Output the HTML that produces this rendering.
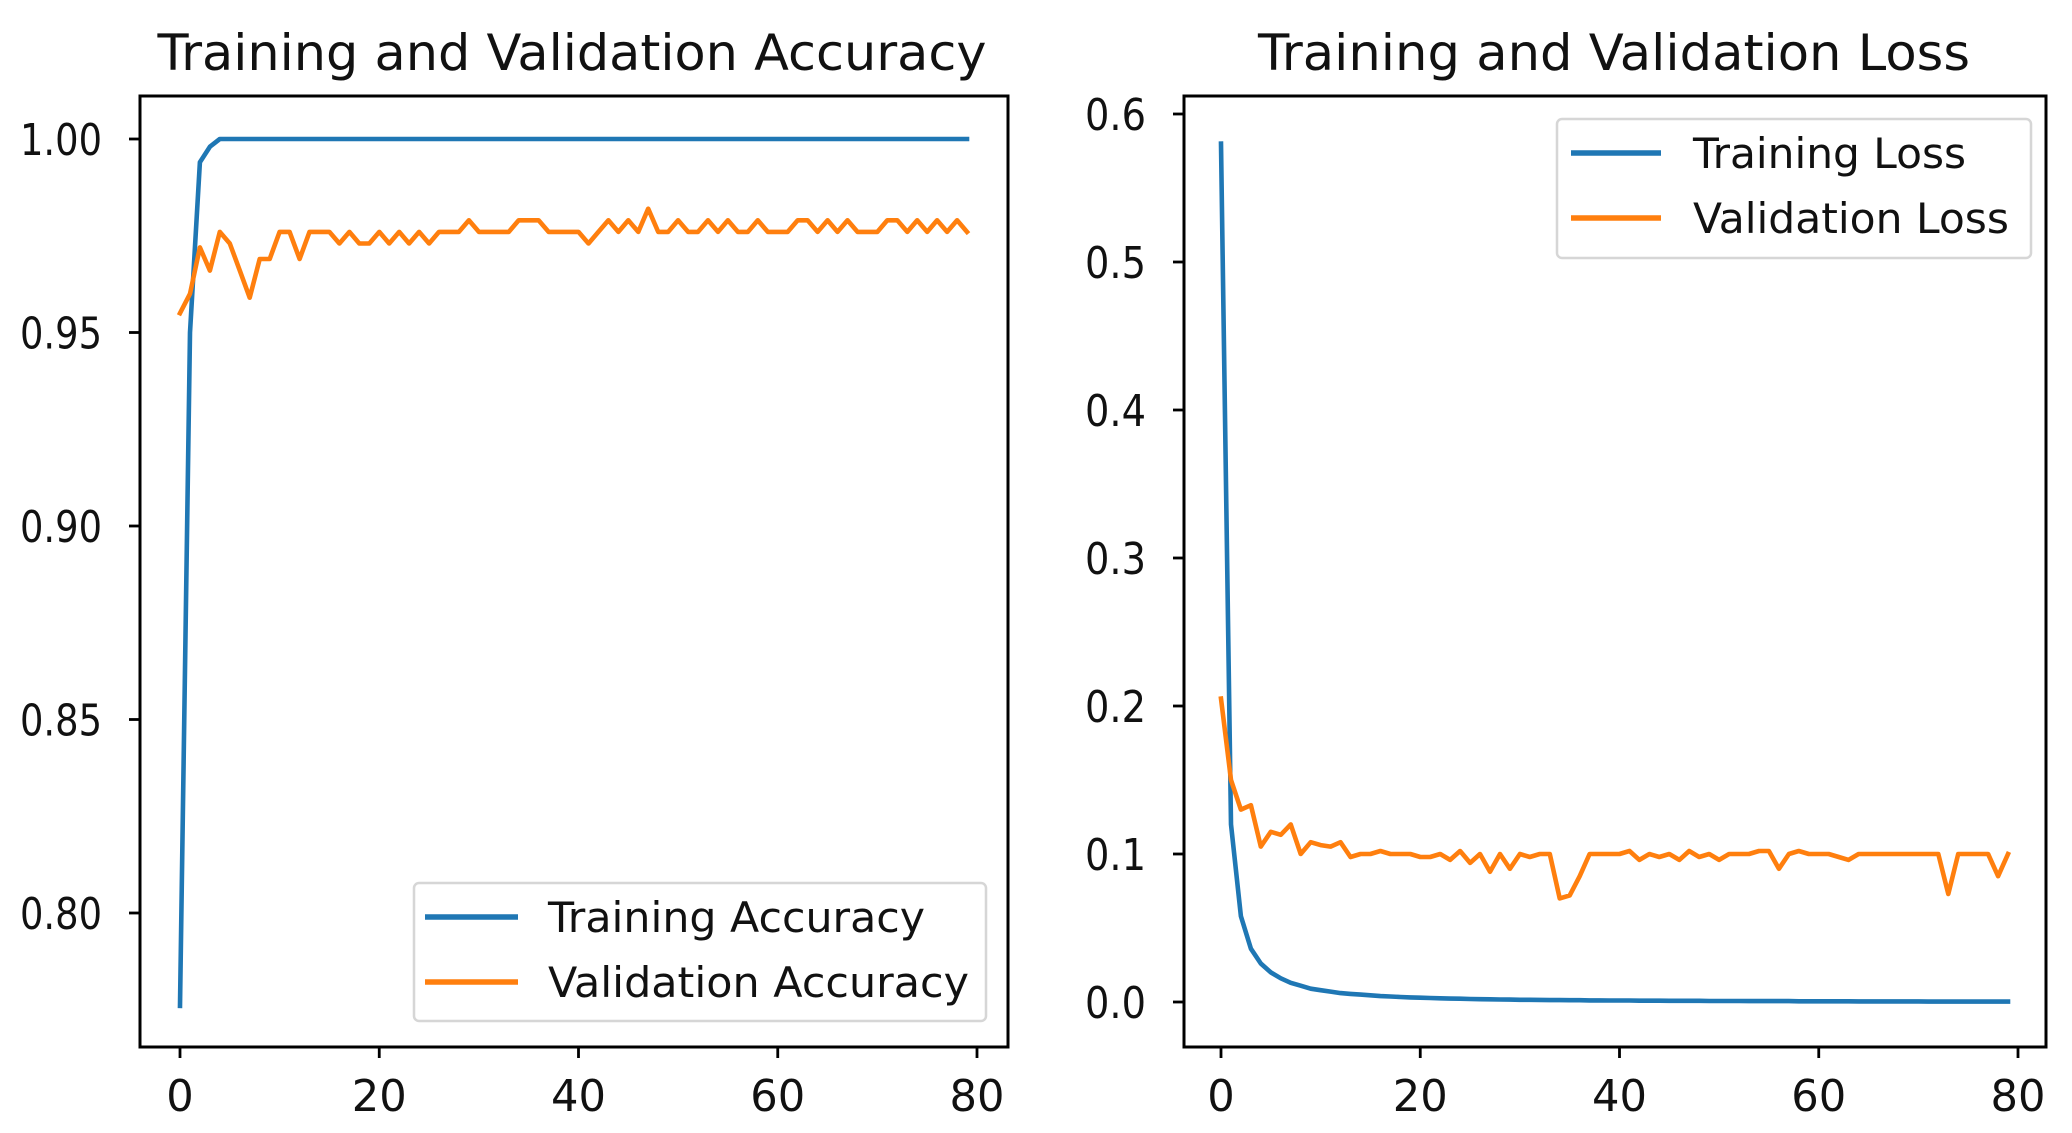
<!DOCTYPE html>
<html><head><meta charset="utf-8">
<style>
html,body{margin:0;padding:0;background:#fff;}
svg{display:block;font-family:"DejaVu Sans","Liberation Sans",sans-serif;}
</style></head>
<body>
<svg id="fig" width="2072" height="1133" viewBox="0 0 2072 1133" xmlns="http://www.w3.org/2000/svg"></svg>
<script>
const epochs = Array.from({length:80},(_,i)=>i);
const trainAcc = [0.776,0.95,0.994,0.998,1,1,1,1,1,1,1,1,1,1,1,1,1,1,1,1,1,1,1,1,1,1,1,1,1,1,1,1,1,1,1,1,1,1,1,1,1,1,1,1,1,1,1,1,1,1,1,1,1,1,1,1,1,1,1,1,1,1,1,1,1,1,1,1,1,1,1,1,1,1,1,1,1,1,1,1];
const valAcc = [0.955,0.96,0.972,0.966,0.976,0.973,0.966,0.959,0.969,0.969,0.976,0.976,0.969,0.976,0.976,0.976,0.973,0.976,0.973,0.973,0.976,0.973,0.976,0.973,0.976,0.973,0.976,0.976,0.976,0.979,0.976,0.976,0.976,0.976,0.979,0.979,0.979,0.976,0.976,0.976,0.976,0.973,0.976,0.979,0.976,0.979,0.976,0.982,0.976,0.976,0.979,0.976,0.976,0.979,0.976,0.979,0.976,0.976,0.979,0.976,0.976,0.976,0.979,0.979,0.976,0.979,0.976,0.979,0.976,0.976,0.976,0.979,0.979,0.976,0.979,0.976,0.979,0.976,0.979,0.976];
const trainLoss = [0.58,0.12,0.058,0.036,0.026,0.02,0.016,0.013,0.011,0.009,0.008,0.007,0.006,0.0055,0.005,0.0045,0.004,0.0037,0.0034,0.0031,0.0029,0.0027,0.0025,0.0023,0.0022,0.002,0.0019,0.0018,0.0017,0.0016,0.0015,0.0015,0.0014,0.0013,0.0013,0.0012,0.0012,0.0011,0.0011,0.001,0.001,0.001,0.0009,0.0009,0.0009,0.0008,0.0008,0.0008,0.0008,0.0007,0.0007,0.0007,0.0007,0.0006,0.0006,0.0006,0.0006,0.0006,0.0005,0.0005,0.0005,0.0005,0.0005,0.0005,0.0004,0.0004,0.0004,0.0004,0.0004,0.0004,0.0004,0.0003,0.0003,0.0003,0.0003,0.0003,0.0003,0.0003,0.0003,0.0003];
const valLoss = [0.205,0.15,0.13,0.133,0.105,0.115,0.113,0.12,0.1,0.108,0.106,0.105,0.108,0.098,0.1,0.1,0.102,0.1,0.1,0.1,0.098,0.098,0.1,0.096,0.102,0.094,0.1,0.088,0.1,0.09,0.1,0.098,0.1,0.1,0.07,0.072,0.085,0.1,0.1,0.1,0.1,0.102,0.096,0.1,0.098,0.1,0.096,0.102,0.098,0.1,0.096,0.1,0.1,0.1,0.102,0.102,0.09,0.1,0.102,0.1,0.1,0.1,0.098,0.096,0.1,0.1,0.1,0.1,0.1,0.1,0.1,0.1,0.1,0.073,0.1,0.1,0.1,0.1,0.085,0.1];
const xTicks = [0,20,40,60,80];
const accTicks = [0.80,0.85,0.90,0.95,1.00];
const accTickLabels = ["0.80","0.85","0.90","0.95","1.00"];
const lossTicks = [0,0.1,0.2,0.3,0.4,0.5,0.6];
const lossTickLabels = ["0.0","0.1","0.2","0.3","0.4","0.5","0.6"];

const NS="http://www.w3.org/2000/svg";
const svg=document.getElementById('fig');
function mk(tag,attrs,parent){const e=document.createElementNS(NS,tag);for(const k in attrs)e.setAttribute(k,attrs[k]);(parent||svg).appendChild(e);return e;}

function panel(cfg){
  const g=mk('g',{});
  
  
  const {L,R,T,B}=cfg;
  const xs=v=>cfg.x0px+(v-0)*(cfg.x80px-cfg.x0px)/80;
  const ys=v=>cfg.yAp+(v-cfg.yA)*(cfg.yBp-cfg.yAp)/(cfg.yB-cfg.yA);
  const t=mk('text',{x:cfg.titleX,y:70,'text-anchor':'middle','font-size':50,fill:'#111',textLength:cfg.titleLen,lengthAdjust:'spacingAndGlyphs'},g);
  t.textContent=cfg.title;
  
  
  cfg.series.forEach(s=>{
    const d=s.data.map((v,i)=>(i?'L':'M')+xs(epochs[i]).toFixed(1)+','+ys(v).toFixed(1)).join(' ');
    const p=mk('path',{d:d,fill:'none',stroke:s.color,'stroke-width':4.6,'stroke-linejoin':'round','stroke-linecap':'square'},g);
    
    
  });
  const fr=mk('rect',{x:L,y:T,width:R-L,height:B-T,fill:'none',stroke:'#000','stroke-width':3},g);
  
  
  xTicks.forEach(v=>{
    const x=xs(v);
    mk('line',{x1:x,y1:B,x2:x,y2:B+11,stroke:'#000','stroke-width':2.8},g);
    const s=String(v);
    const tx=mk('text',{x:x,y:1111,'text-anchor':'middle','font-size':44,fill:'#111',textLength:s.length*27.5,lengthAdjust:'spacingAndGlyphs'},g);
    tx.textContent=s;
    
    
  });
  cfg.yTicks.forEach((v,i)=>{
    const y=ys(v);
    mk('line',{x1:L-11,y1:y,x2:L,y2:y,stroke:'#000','stroke-width':2.8},g);
    const s=cfg.yLabels[i];
    const ty=mk('text',{x:L-38,y:y+16,'text-anchor':'end','font-size':44,fill:'#111',textLength:cfg.yLabW,lengthAdjust:'spacingAndGlyphs'},g);
    ty.textContent=s;
    
    
  });
  const lg=mk('g',{},g);
  
  
  const lb=cfg.legend;
  mk('rect',{x:lb.x,y:lb.y,width:lb.w,height:lb.h,rx:5,fill:'#fff',stroke:'#d6d6d6','stroke-width':2.5},lg);
  cfg.series.forEach((s,i)=>{
    const yy=lb.rows[i];
    const e=mk('g',{},lg);
    
    
    mk('line',{x1:lb.lx1,y1:yy,x2:lb.lx2,y2:yy,stroke:s.color,'stroke-width':5.5},e);
    const tt=mk('text',{x:lb.tx,y:yy+15,'font-size':42,fill:'#111',textLength:lb.tw[i],lengthAdjust:'spacingAndGlyphs'},e);
    tt.textContent=s.label;
  });
}

panel({name:'accuracy-chart',L:140,R:1008,T:96,B:1047,x0px:180,x80px:977,yA:1.0,yAp:139,yB:0.8,yBp:913,
  title:'Training and Validation Accuracy',titleX:572,titleLen:829,yTicks:accTicks,yLabels:accTickLabels,yLabW:82,
  series:[{key:'training-accuracy-line',label:'Training Accuracy',color:'#1f77b4',data:trainAcc},
          {key:'validation-accuracy-line',label:'Validation Accuracy',color:'#ff7f0e',data:valAcc}],
  legend:{x:414,y:883,w:572,h:138,rows:[917,982],lx1:425,lx2:518,tx:548,tw:[377,421]}});
panel({name:'loss-chart',L:1184,R:2046,T:96,B:1047,x0px:1221,x80px:2018,yA:0.6,yAp:114,yB:0.0,yBp:1002,
  title:'Training and Validation Loss',titleX:1614,titleLen:712,yTicks:lossTicks,yLabels:lossTickLabels,yLabW:61,
  series:[{key:'training-loss-line',label:'Training Loss',color:'#1f77b4',data:trainLoss},
          {key:'validation-loss-line',label:'Validation Loss',color:'#ff7f0e',data:valLoss}],
  legend:{x:1557,y:119,w:474,h:139,rows:[153,218],lx1:1571,lx2:1661,tx:1693,tw:[273,316]}});
</script>
</body></html>
